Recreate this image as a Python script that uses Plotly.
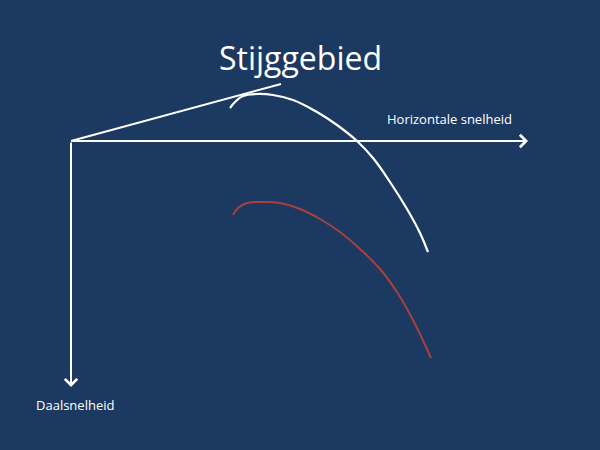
import plotly.graph_objects as go

# Slide-like sketch of a polar curve (glider speed polar), coordinates in slide pixels
BG = "#1B3961"

title_text = "Stijggebied"
x_label = "Horizontale snelheid"
y_label = "Daalsnelheid"

# upper (white) polar curve
white_x = [230, 235, 243, 257, 273, 293, 317, 337, 357, 373, 390, 407, 420, 428]
white_y = [108, 102, 96, 94, 95, 100, 112, 125, 141, 158, 182, 209, 233, 252]

# lower (red) polar curve
red_x = [233, 238, 247, 263, 280, 300, 320, 340, 360, 380, 397, 413, 431]
red_y = [215, 208, 203, 202, 203, 209, 219, 232, 249, 269, 292, 320, 358]

# tangent from origin
tangent_x = [71, 281]
tangent_y = [141, 84]

origin = (71, 141)
x_axis_end = 528
y_axis_end = 387

fig = go.Figure()

fig.add_trace(go.Scatter(x=tangent_x, y=tangent_y, mode="lines",
                         line=dict(color="white", width=2), hoverinfo="skip"))
fig.add_trace(go.Scatter(x=white_x, y=white_y, mode="lines", line_shape="spline",
                         line=dict(color="white", width=2.2, smoothing=1.2), hoverinfo="skip"))
fig.add_trace(go.Scatter(x=red_x, y=red_y, mode="lines", line_shape="spline",
                         line=dict(color="#A9403E", width=2, smoothing=1.2), hoverinfo="skip"))

# axes with arrows
for ax_x, ax_y in [(x_axis_end, origin[1]), (origin[0], y_axis_end)]:
    fig.add_annotation(x=ax_x, y=ax_y, ax=origin[0], ay=origin[1],
                       xref="x", yref="y", axref="x", ayref="y",
                       showarrow=True, arrowhead=4, arrowsize=1.2,
                       arrowwidth=2, arrowcolor="white", text="")

fig.add_annotation(x=300, y=57, text=title_text, showarrow=False,
                   font=dict(family="Open Sans", size=32, color="white"))
fig.add_annotation(x=449, y=119, text=x_label, showarrow=False,
                   font=dict(family="Open Sans", size=13, color="white"))
fig.add_annotation(x=75, y=405, text=y_label, showarrow=False,
                   font=dict(family="Open Sans", size=13, color="white"))

fig.update_xaxes(range=[0, 600], visible=False)
fig.update_yaxes(range=[450, 0], visible=False)
fig.update_layout(width=600, height=450, margin=dict(l=0, r=0, t=0, b=0),
                  paper_bgcolor=BG, plot_bgcolor=BG, showlegend=False)

fig.write_html("out.html", config={"displayModeBar": False},
               post_script="document.body.style.margin='0';"
                           "document.body.style.overflow='hidden';")
